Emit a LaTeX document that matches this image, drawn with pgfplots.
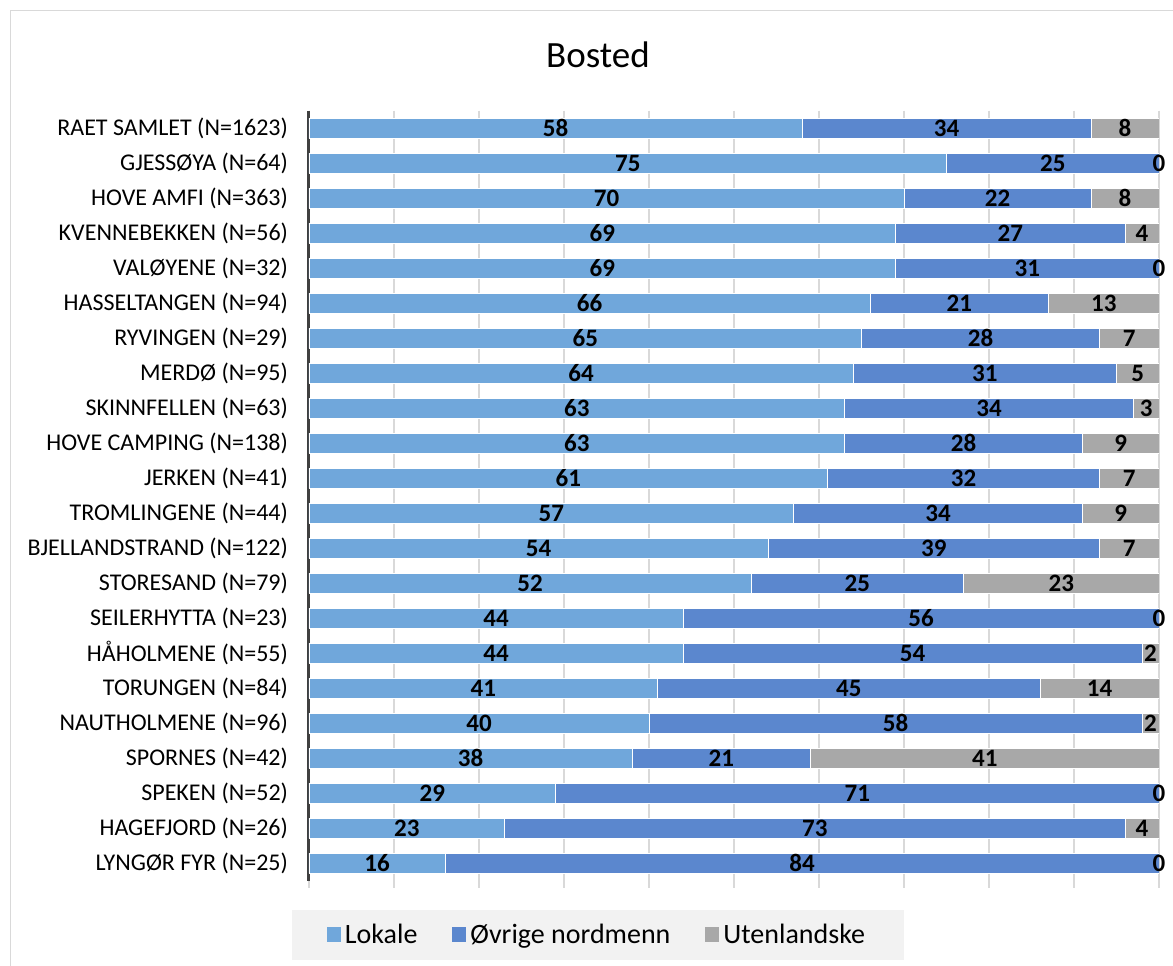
\documentclass[border=0pt]{standalone}
\usepackage{pgfplots}
\pgfplotsset{compat=1.18}
\usepackage{pgfplotstable}
\usepackage{fontspec}
\setmainfont{Carlito}
\definecolor{cLok}{HTML}{70A7DB}
\definecolor{cOvr}{HTML}{5B87CE}
\definecolor{cUt}{HTML}{A8A8A8}
\definecolor{cGrid}{HTML}{D9D9D9}
\definecolor{cLeg}{HTML}{F2F2F2}
\pgfplotstableread{
idx L O U
0 58 34 8
1 75 25 0
2 70 22 8
3 69 27 4
4 69 31 0
5 66 21 13
6 65 28 7
7 64 31 5
8 63 34 3
9 63 28 9
10 61 32 7
11 57 34 9
12 54 39 7
13 52 25 23
14 44 56 0
15 44 54 2
16 41 45 14
17 40 58 2
18 38 21 41
19 29 71 0
20 23 73 4
21 16 84 0
}\data
\pgfplotsset{geom/.style={
 at={(154.5pt,42.25pt)}, anchor=south west,
 scale only axis, width=425pt, height=385pt,
 xmin=0, xmax=100, ymin=-0.5, ymax=21.5, y dir=reverse}}
\begin{document}
\begin{tikzpicture}[x=1pt,y=1pt]
\path[use as bounding box] (0,0) rectangle (586.5,482.5);
\draw[cGrid, line width=0.75pt] (5.25,-10) rectangle (600,477.25);
\node[font=\fontsize{18.5}{22}\selectfont] at (299,455) {Bosted};
\begin{axis}[geom,
 xbar stacked, bar width=10pt,
 xtick={0,10,...,100}, xticklabels={},
 xmajorgrids, grid style={cGrid, line width=0.75pt},
 ytick={0,...,21},
 yticklabels={RAET SAMLET (N=1623), GJESSØYA (N=64), HOVE AMFI (N=363), KVENNEBEKKEN (N=56), VALØYENE (N=32), HASSELTANGEN (N=94), RYVINGEN (N=29), MERDØ (N=95), SKINNFELLEN (N=63), HOVE CAMPING (N=138), JERKEN (N=41), TROMLINGENE (N=44), BJELLANDSTRAND (N=122), STORESAND (N=79), SEILERHYTTA (N=23), HÅHOLMENE (N=55), TORUNGEN (N=84), NAUTHOLMENE (N=96), SPORNES (N=42), SPEKEN (N=52), HAGEFJORD (N=26), LYNGØR FYR (N=25)},
 yticklabel style={font=\fontsize{12}{14}\selectfont, xshift=-3.5pt},
 axis x line*=bottom, axis y line*=left,
 x axis line style={draw=none},
 y axis line style={draw=black!75, line width=1.5pt, -},
 tick align=outside, major tick length=3.5pt,
 xtick style={cGrid, line width=0.75pt},
 ytick style={draw=none},
 legend columns=3,
 legend style={at={(0.34,-0.0708)}, anchor=center, draw=none, fill=cLeg,
   font=\fontsize{14}{16}\selectfont, inner xsep=17.5pt, inner ysep=5pt,
   /tikz/every even column/.append style={column sep=15.5pt}},
 legend image code/.code={\fill[#1, draw=none] (-1.5pt,-3.5pt) rectangle (5.5pt,4pt);},
]
\addplot[fill=cLok, draw=white, line width=0.4pt] table[x=L, y=idx]{\data};
\addplot[fill=cOvr, draw=white, line width=0.4pt] table[x=O, y=idx]{\data};
\addplot[fill=cUt, draw=white, line width=0.4pt] table[x=U, y=idx]{\data};
\legend{Lokale, Øvrige nordmenn, Utenlandske}
\end{axis}
\begin{axis}[geom, hide axis,
 /pgf/number format/assume math mode=true,
 nodes near coords align=center,
 every node near coord/.append style={font=\bfseries\fontsize{12.5}{14}\selectfont, anchor=center, text=black}]
\addplot[draw=none, mark=none, nodes near coords, point meta=explicit] table[x expr=\thisrow{L}/2, y=idx, meta=L]{\data};
\addplot[draw=none, mark=none, nodes near coords, point meta=explicit] table[x expr=\thisrow{L}+\thisrow{O}/2, y=idx, meta=O]{\data};
\addplot[draw=none, mark=none, nodes near coords, point meta=explicit] table[x expr=\thisrow{L}+\thisrow{O}+\thisrow{U}/2, y=idx, meta=U]{\data};
\end{axis}
\end{tikzpicture}
\end{document}
